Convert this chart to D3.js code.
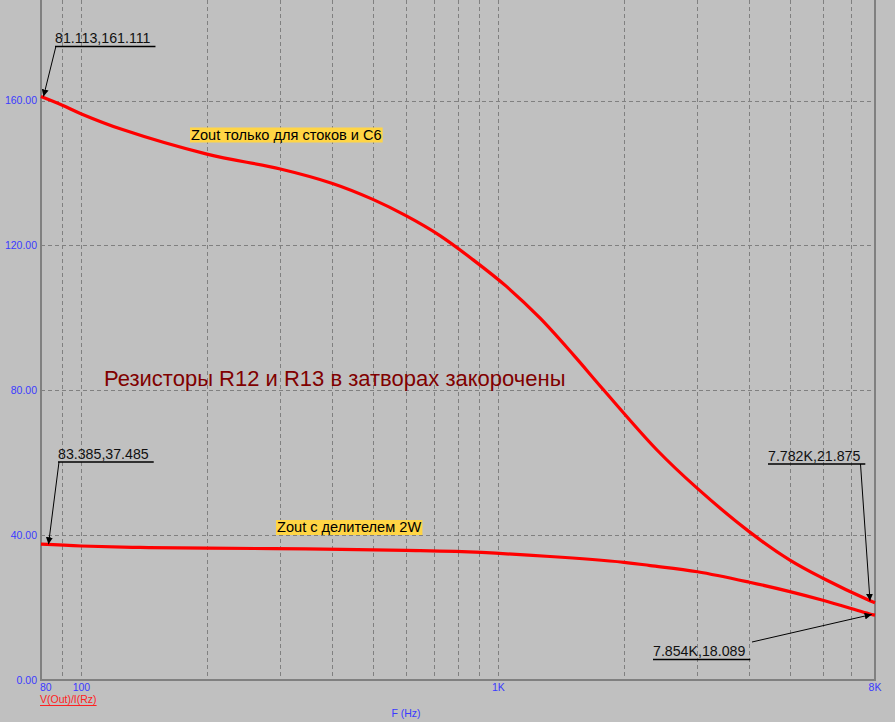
<!DOCTYPE html>
<html><head><meta charset="utf-8">
<script src="https://cdn.jsdelivr.net/npm/d3@7"></script>
<style>
html,body{margin:0;padding:0;background:#c0c0c0;}
svg{display:block;font-family:"Liberation Sans",Arial,sans-serif;}
</style></head>
<body>
<svg id="chart" width="895" height="722"></svg>
<script>
// ---- data ----
const upperFreq = [80, 90, 100, 126, 200, 300, 400, 500, 600, 724, 870, 1047, 1259, 1515, 1784, 2400, 3000, 4000, 5000, 6000, 7782, 8000];
const upperVals = [161.1, 158.7, 156.3, 151.9, 145.2, 141.1, 137.1, 132.7, 128.2, 122.7, 116.0, 108.6, 99.9, 89.7, 80.2, 63.5, 52.9, 40.9, 33.1, 28.1, 21.875, 21.3];
const lowerFreq = [80, 100, 138, 200, 345, 600, 790, 1330, 2000, 2313, 3000, 4000, 5000, 6000, 7854, 8000];
const lowerVals = [37.5, 37.0, 36.6, 36.4, 36.2, 35.8, 35.5, 34.1, 32.5, 31.6, 29.9, 27.0, 24.4, 22.0, 18.089, 17.9];
const yTicks = [0, 40, 80, 120, 160];
const yTickLabels = ["0.00", "40.00", "80.00", "120.00", "160.00"];
const xTicks = [80, 100, 1000, 8000];
const xTickLabels = ["80", "100", "1K", "8K"];
const xGrid = [90, 100, 200, 300, 400, 500, 600, 700, 800, 900, 1000, 2000, 3000, 4000, 5000, 6000, 7000];
const cursorF = [81.113, 83.385, 7782, 7854];
const cursorV = [161.111, 37.485, 21.875, 18.089];
const cursorLabels = ["81.113,161.111", "83.385,37.485", "7.782K,21.875", "7.854K,18.089"];
const traceNames = ["Zout только для стоков и C6", "Zout с делителем 2W"];
const titleText = "Резисторы R12 и R13 в затворах закорочены";
const xAxisTitle = "F (Hz)";
const yTraceTitle = "V(Out)/I(Rz)";

// ---- layout ----
const L = 41, R = 875, B = 680, T = 0;
const svg = d3.select("#chart");
const x = d3.scaleLog().domain([80, 8000]).range([L, R]);
const y = d3.scaleLinear().domain([0, 160]).range([B, 100.5]);
const gridCol = "#808080";
const blue = "#3a3aff";

svg.append("rect").attr("width", 895).attr("height", 722).attr("fill", "#c0c0c0");

// grid
const g = svg.append("g").attr("stroke", gridCol).attr("stroke-dasharray", "4,3").attr("stroke-width", 1);
g.selectAll("line.v").data(xGrid).join("line")
  .attr("x1", d => Math.round(x(d)) + 0.5).attr("x2", d => Math.round(x(d)) + 0.5)
  .attr("y1", T).attr("y2", B);
g.selectAll("line.h").data(yTicks.filter(d => d > 0)).join("line")
  .attr("x1", L).attr("x2", R)
  .attr("y1", d => Math.round(y(d)) + 0.5).attr("y2", d => Math.round(y(d)) + 0.5);

// axes frame
const a = svg.append("g").attr("stroke", gridCol).attr("stroke-width", 2).attr("fill", "none");
a.append("line").attr("x1", L).attr("x2", L).attr("y1", T).attr("y2", B + 1);
a.append("line").attr("x1", R).attr("x2", R).attr("y1", T).attr("y2", B + 1);
a.append("line").attr("x1", L).attr("x2", R).attr("y1", B).attr("y2", B);

// tick labels
svg.append("g").selectAll("text").data(yTicks).join("text")
  .attr("x", 37).attr("y", d => y(d) + 3.5)
  .attr("text-anchor", "end").attr("font-size", 10.5).attr("fill", blue)
  .text((d, i) => yTickLabels[i]);
svg.append("g").selectAll("text").data(xTicks).join("text")
  .attr("x", (d, i) => i === 0 ? x(d) - 1 : x(d))
  .attr("y", 691)
  .attr("text-anchor", (d, i) => i === 0 ? "start" : "middle")
  .attr("font-size", 10.5).attr("fill", blue)
  .text((d, i) => xTickLabels[i]);
svg.append("text").attr("x", 406).attr("y", 717).attr("text-anchor", "middle")
  .attr("font-size", 10.5).attr("fill", blue).text(xAxisTitle);
const tt = svg.append("text").attr("x", 40).attr("y", 703)
  .attr("font-size", 10.5).attr("fill", "#ff2020").text(yTraceTitle);
const tw = tt.node().getComputedTextLength();
svg.append("line").attr("x1", 40).attr("x2", 40 + tw).attr("y1", 705.5).attr("y2", 705.5)
  .attr("stroke", "#ff2020").attr("stroke-width", 1);

// curves
const line = d3.line().x(d => x(d[0])).y(d => y(d[1])).curve(d3.curveCatmullRom.alpha(0.5));
const series = [d3.zip(upperFreq, upperVals), d3.zip(lowerFreq, lowerVals)];
svg.append("g").selectAll("path").data(series).join("path")
  .attr("d", line).attr("fill", "none").attr("stroke", "#ff0000").attr("stroke-width", 3.2);

// trace labels with yellow background
const traceLabelPos = [[191, 139.5], [277, 532]];
traceNames.forEach((name, i) => {
  const t = svg.append("text").attr("x", traceLabelPos[i][0]).attr("y", traceLabelPos[i][1])
    .attr("font-size", 14.6).attr("fill", "#000").text(name);
  const bb = t.node().getBBox();
  svg.insert("rect", () => t.node())
    .attr("x", bb.x - 1).attr("y", bb.y + 1).attr("width", bb.width + 2).attr("height", bb.height - 1)
    .attr("fill", "#ffd545");
});

// title
svg.append("text").attr("x", 104).attr("y", 386).attr("font-size", 22)
  .attr("fill", "#800000").text(titleText);

// cursors / annotations
svg.append("defs").append("marker").attr("id", "arr").attr("viewBox", "0 0 10 10")
  .attr("refX", 10).attr("refY", 5).attr("markerWidth", 7).attr("markerHeight", 7)
  .attr("markerUnits", "userSpaceOnUse").attr("orient", "auto")
  .append("path").attr("d", "M0,0L10,5L0,10z").attr("fill", "#000");

// label box positions: [textX, baseline, leader start x, leader start y]
const annPos = [
  [55, 43, 56, 46],
  [58, 458.5, 59, 462],
  [768, 460.5, 860.5, 464],
  [653, 656, 752, 642]
];
cursorLabels.forEach((lab, i) => {
  const p = annPos[i];
  const t = svg.append("text").attr("x", p[0]).attr("y", p[1]).attr("font-size", 14.2)
    .attr("fill", "#101010").text(lab);
  const w = t.node().getComputedTextLength();
  svg.append("line").attr("x1", p[0]).attr("x2", p[0] + w + 5)
    .attr("y1", p[1] + 3.5).attr("y2", p[1] + 3.5).attr("stroke", "#000").attr("stroke-width", 1.3);
  svg.append("line").attr("x1", p[2]).attr("y1", p[3])
    .attr("x2", x(cursorF[i])).attr("y2", y(cursorV[i]))
    .attr("stroke", "#000").attr("stroke-width", 1).attr("marker-end", "url(#arr)");
});
</script>
</body></html>
